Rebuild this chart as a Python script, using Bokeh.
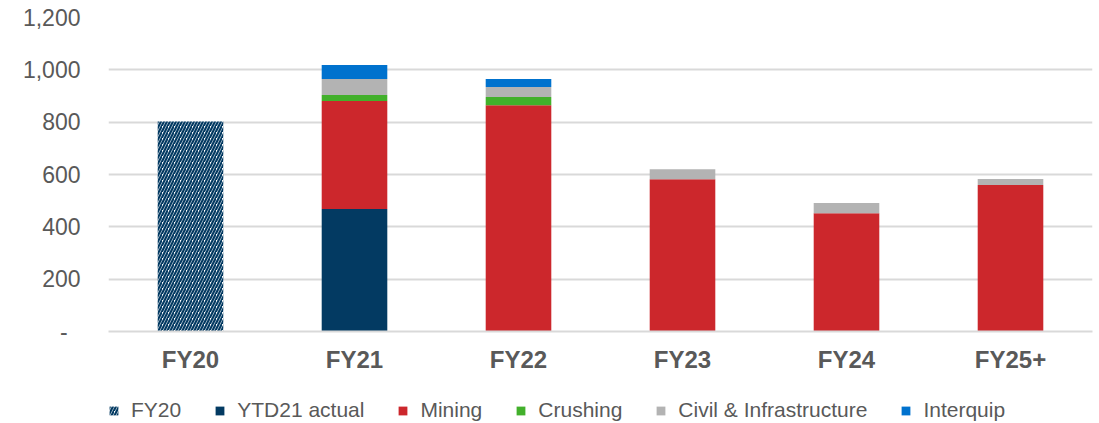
from bokeh.plotting import figure
from bokeh.layouts import column
from bokeh.models import ColumnDataSource, FactorRange, Range1d, FixedTicker, NumeralTickFormatter, Legend, LegendItem
from bokeh.embed import file_html
from bokeh.resources import INLINE

categories = ["FY20", "FY21", "FY22", "FY23", "FY24", "FY25+"]
fy20 = [803, 0, 0, 0, 0, 0]
ytd21_actual = [0, 468, 0, 0, 0, 0]
mining = [0, 413, 865, 582, 452, 560]
crushing = [0, 23, 31, 0, 0, 0]
civil_infra = [0, 61, 38, 38, 39, 23]
interquip = [0, 53, 31, 0, 0, 0]
y_ticks = [0, 200, 400, 600, 800, 1000, 1200]

stack_keys = ["ytd21", "mining", "crushing", "civil", "interquip"]
stack_labels = ["YTD21 actual", "Mining", "Crushing", "Civil & Infrastructure", "Interquip"]
stack_colors = ["#033A62", "#CC272C", "#42B02B", "#B3B3B3", "#0072CE"]
hatch_color = "#033A62"

source = ColumnDataSource(dict(
    cat=categories, fy20=fy20, ytd21=ytd21_actual, mining=mining,
    crushing=crushing, civil=civil_infra, interquip=interquip,
))

FONT = "Liberation Sans"
TXT = "#595959"
HATCH = dict(fill_color="white", hatch_pattern="/", hatch_color=hatch_color,
             hatch_weight=2.2, hatch_scale=6)

p = figure(x_range=FactorRange(*categories), y_range=Range1d(0, 1200),
           width=1096, height=385, output_backend="svg", toolbar_location=None,
           min_border_left=108, min_border_right=4, min_border_top=17, min_border_bottom=54)
p.outline_line_color = None
p.background_fill_color = "white"

p.vbar(x="cat", top="fy20", width=0.4, source=source, line_color=None, **HATCH)
p.vbar_stack(stack_keys, x="cat", width=0.4, source=source,
             color=stack_colors, line_color=None)

p.xgrid.grid_line_color = None
p.ygrid.grid_line_color = "#D9D9D9"
p.ygrid.grid_line_width = 2
p.yaxis.ticker = FixedTicker(ticks=y_ticks)
p.yaxis.formatter = NumeralTickFormatter(format="0,0")
p.yaxis.major_label_overrides = {0: "-\u00a0\u00a0"}
p.yaxis.axis_line_color = None
p.yaxis.major_tick_line_color = None
p.yaxis.minor_tick_line_color = None
p.yaxis.major_label_standoff = 22
p.yaxis.major_label_text_font = FONT
p.yaxis.major_label_text_font_size = "23px"
p.yaxis.major_label_text_color = TXT

p.xaxis.axis_line_color = "#D9D9D9"
p.xaxis.axis_line_width = 2
p.xaxis.major_tick_line_color = None
p.xaxis.minor_tick_line_color = None
p.xaxis.major_label_standoff = 8
p.xaxis.major_label_text_font = FONT
p.xaxis.major_label_text_font_size = "24px"
p.xaxis.major_label_text_font_style = "bold"
p.xaxis.major_label_text_color = TXT

# legend strip below the chart
lg = figure(x_range=Range1d(0, 1), y_range=Range1d(0, 1), width=1096, height=38,
            output_backend="svg", toolbar_location=None,
            min_border_left=0, min_border_right=0, min_border_top=0, min_border_bottom=0)
lg.axis.visible = False
lg.grid.visible = False
lg.outline_line_color = None
dummy = ColumnDataSource(dict(x=[0.5], top=[0]))
items = [LegendItem(label="FY20", renderers=[
    lg.vbar(x="x", top="top", width=0.0, source=dummy, line_color=None, **HATCH)])]
for lab, col in zip(stack_labels, stack_colors):
    r = lg.vbar(x="x", top="top", width=0.0, source=dummy, color=col, line_color=None)
    items.append(LegendItem(label=lab, renderers=[r]))
legend = Legend(items=items, orientation="horizontal", location=(0, 1),
                glyph_width=11, glyph_height=11, label_standoff=12, spacing=33,
                label_text_font=FONT, label_text_font_size="21px", label_text_color=TXT,
                border_line_color=None, background_fill_alpha=0, padding=0, margin=0)
lg.add_layout(legend, "center")

layout = column(p, lg, spacing=0)
open("out.html", "w").write(file_html(layout, INLINE))
